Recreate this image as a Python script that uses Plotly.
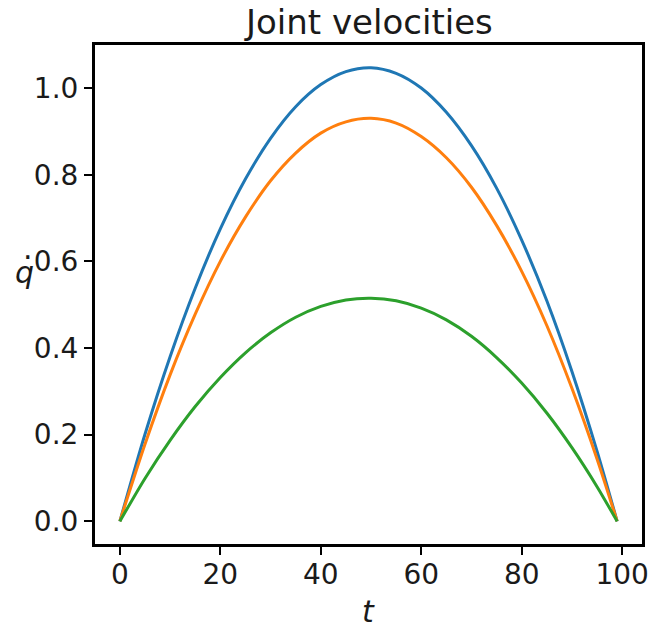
import plotly.graph_objects as go

# Sample times along the trajectory
t = [0, 5, 10, 15, 20, 25, 30, 35, 40, 45, 50, 55, 60, 65, 70, 75, 80, 85, 90, 95, 99]

# Joint velocity profiles (one per joint)
qd_joint1 = [0, 0.201, 0.380, 0.538, 0.675, 0.790, 0.884, 0.957, 1.008, 1.038, 1.047,
             1.034, 1.000, 0.944, 0.867, 0.769, 0.649, 0.509, 0.346, 0.162, 0]
qd_joint2 = [0, 0.178, 0.338, 0.478, 0.600, 0.702, 0.786, 0.850, 0.896, 0.922, 0.930,
             0.919, 0.888, 0.839, 0.771, 0.683, 0.577, 0.452, 0.307, 0.144, 0]
qd_joint3 = [0, 0.099, 0.187, 0.265, 0.332, 0.389, 0.435, 0.471, 0.496, 0.511, 0.515,
             0.509, 0.492, 0.465, 0.427, 0.378, 0.319, 0.250, 0.170, 0.080, 0]

x_ticks = [0, 20, 40, 60, 80, 100]
y_ticks = [0.0, 0.2, 0.4, 0.6, 0.8, 1.0]
y_tick_text = ["0.0", "0.2", "0.4", "0.6", "0.8", "1.0"]

colors = ["#1f77b4", "#ff7f0e", "#2ca02c"]
font = "DejaVu Sans"
ink = "#1a1a1a"

fig = go.Figure()
for series, c in zip([qd_joint1, qd_joint2, qd_joint3], colors):
    fig.add_trace(go.Scatter(x=t, y=series, mode="lines",
                             line=dict(color=c, width=3, shape="spline", smoothing=0.8),
                             showlegend=False, hoverinfo="skip"))

ymax = max(qd_joint1)
axis_common = dict(showline=True, mirror=True, linecolor="black", linewidth=3,
                   ticks="outside", ticklen=8, tickwidth=2, tickcolor="black",
                   showgrid=False, zeroline=False,
                   tickfont=dict(family=font, size=28, color=ink))

fig.update_layout(
    width=656, height=629,
    margin=dict(l=95, r=7, t=45, b=85),
    paper_bgcolor="white", plot_bgcolor="white",
    xaxis=dict(range=[-4.95, 103.95], tickvals=x_ticks, ticklabelstandoff=-5,
               **axis_common),
    yaxis=dict(range=[-0.05 * ymax, 1.05 * ymax], tickvals=y_ticks,
               ticktext=y_tick_text, ticklabelstandoff=0, **axis_common),
    annotations=[
        dict(text="Joint velocities", xref="paper", yref="paper", x=0.5, y=1.0,
             yshift=23, showarrow=False, xanchor="center", yanchor="middle",
             font=dict(family=font, size=34, color=ink)),
        dict(text="<i>t</i>", xref="paper", yref="paper", x=0.5, y=-0.136,
             showarrow=False, xanchor="center", yanchor="middle",
             font=dict(family=font, size=30, color=ink)),
        # y label: italic q with a dot above (time derivative)
        dict(text="<i>q</i>", xref="paper", yref="paper", x=-0.128, y=0.545,
             showarrow=False, xanchor="center", yanchor="middle",
             font=dict(family=font, size=30, color=ink)),
        dict(text="\u00b7", xref="paper", yref="paper", x=-0.1227, y=0.574,
             showarrow=False, xanchor="center", yanchor="middle",
             font=dict(family=font, size=30, color=ink)),
    ],
)

fig.write_html("out.html")
